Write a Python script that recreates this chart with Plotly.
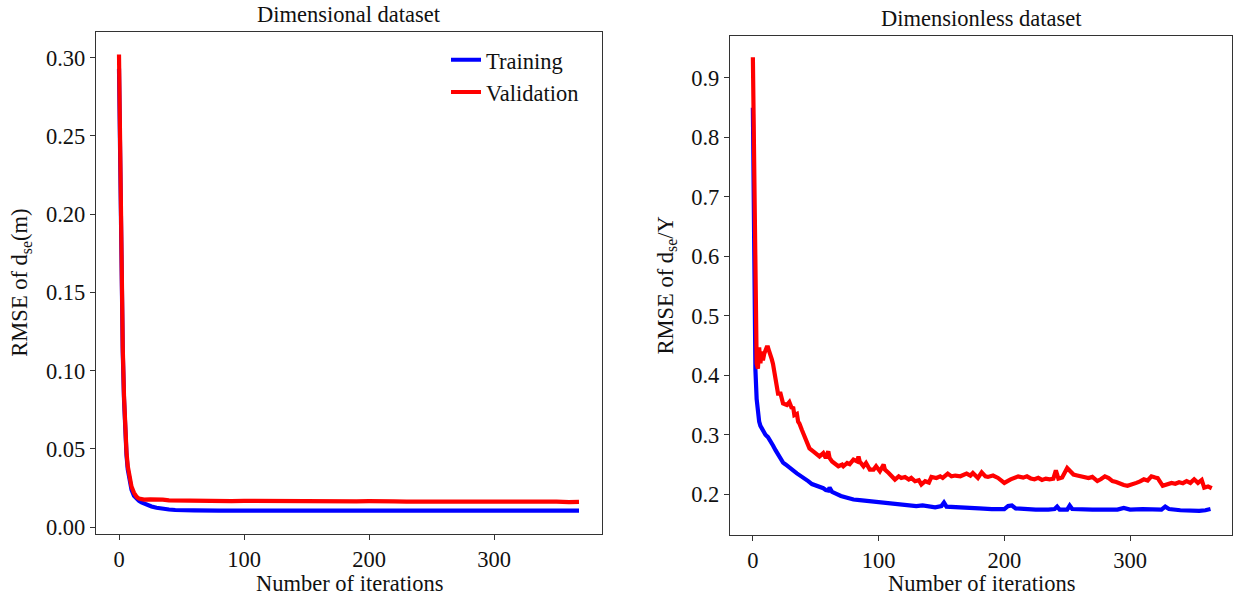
import plotly.graph_objects as go

# ---------------- data: Dimensional dataset ----------------
dim_train_x = [0, 1, 2, 3, 4, 5, 6, 7, 8, 9, 10, 12, 14, 16, 18, 20, 23, 26, 30, 35, 40, 45, 50, 60,
               80, 100, 120, 140, 160, 180, 200, 220, 240, 260, 280, 300, 320, 340, 360, 368]
dim_train_y = [0.293, 0.215, 0.155, 0.112, 0.082, 0.060, 0.046, 0.037, 0.031, 0.027, 0.024, 0.020,
               0.018, 0.0168, 0.0158, 0.0150, 0.0140, 0.0132, 0.0124, 0.0117, 0.0113, 0.0110, 0.0108,
               0.0107, 0.0106, 0.0106, 0.0106, 0.0106, 0.0107, 0.0106, 0.0106, 0.0107, 0.0106, 0.0106,
               0.0106, 0.0107, 0.0106, 0.0106, 0.0106, 0.0106]

dim_val_x = [0, 1, 2, 3, 4, 5, 6, 7, 8, 9, 10, 12, 14, 16, 18, 20, 25, 30, 35, 40, 50, 60, 70, 80, 90,
             100, 110, 115, 120, 130, 140, 150, 160, 170, 180, 190, 200, 210, 220, 230, 240, 250, 260,
             270, 280, 290, 300, 310, 320, 330, 340, 350, 360, 365, 368]
dim_val_y = [0.302, 0.222, 0.160, 0.115, 0.084, 0.062, 0.048, 0.039, 0.033, 0.029, 0.026, 0.022,
             0.0195, 0.0183, 0.0178, 0.0176, 0.0178, 0.0180, 0.0176, 0.0172, 0.0170, 0.0171, 0.0169,
             0.0168, 0.0166, 0.0168, 0.0167, 0.0171, 0.0168, 0.0167, 0.0168, 0.0167, 0.0166, 0.0167,
             0.0166, 0.0165, 0.0166, 0.0168, 0.0165, 0.0164, 0.0165, 0.0164, 0.0163, 0.0164, 0.0163,
             0.0164, 0.0163, 0.0164, 0.0162, 0.0163, 0.0162, 0.0163, 0.0160, 0.0165, 0.0162]

# ---------------- data: Dimensionless dataset ----------------
dl_train_x = [0, 1, 2, 3, 4, 5, 6, 8, 10, 12, 14, 16, 18, 20, 22, 24, 26, 28, 30, 32, 35, 38, 41, 44,
              47, 50, 53, 56, 58, 60, 61, 63, 66, 70, 75, 80, 85, 90, 95, 100, 105, 110, 115, 120,
              125, 130, 135, 140, 145, 150, 152, 154, 160, 170, 180, 190, 200, 203, 206, 209, 215,
              225, 235, 240, 242, 244, 250, 252, 254, 260, 270, 280, 290, 295, 300, 310, 320, 325,
              328, 331, 340, 350, 355, 360, 364]
dl_train_y = [0.85, 0.52, 0.41, 0.36, 0.335, 0.322, 0.315, 0.307, 0.300, 0.296, 0.290, 0.282, 0.274,
              0.266, 0.259, 0.253, 0.250, 0.247, 0.245, 0.240, 0.235, 0.231, 0.228, 0.222, 0.217,
              0.215, 0.213, 0.210, 0.207, 0.206, 0.211, 0.204, 0.201, 0.197, 0.194, 0.191, 0.190,
              0.189, 0.188, 0.187, 0.186, 0.185, 0.183, 0.182, 0.181, 0.180, 0.181, 0.179, 0.178,
              0.180, 0.186, 0.179, 0.178, 0.177, 0.176, 0.175, 0.175, 0.180, 0.181, 0.176, 0.175,
              0.174, 0.174, 0.175, 0.179, 0.174, 0.174, 0.181, 0.175, 0.174, 0.174, 0.174, 0.174,
              0.177, 0.174, 0.175, 0.175, 0.174, 0.179, 0.175, 0.173, 0.172, 0.172, 0.173, 0.175]

dl_val_x = [0, 1, 2, 3, 4, 5, 6, 7, 8, 9, 11, 12, 13, 14, 15, 16, 18, 19, 20, 22, 23, 24, 27, 29,
            31, 32, 33, 35, 36, 37, 39, 40, 41, 43, 44, 45, 48, 51, 53, 56, 58, 60, 61, 63, 65, 68,
            71, 72, 75, 77, 80, 83, 84, 85, 88, 90, 93, 96, 98, 101, 104, 105, 108, 110, 113, 116,
            118, 121, 124, 126, 129, 132, 134, 137, 140, 142, 146, 149, 151, 155, 158, 161, 165,
            170, 173, 175, 179, 182, 185, 187, 191, 195, 200, 205, 208, 211, 215, 218, 221, 224,
            227, 230, 233, 236, 239, 241, 243, 246, 250, 253, 255, 258, 261, 264, 267, 270, 274,
            277, 280, 283, 286, 289, 292, 295, 298, 302, 305, 308, 311, 314, 317, 320, 322, 326,
            330, 333, 336, 339, 342, 345, 348, 351, 354, 357, 359, 362, 365]
dl_val_y = [0.935, 0.70, 0.47, 0.42, 0.411, 0.447, 0.42, 0.44, 0.425, 0.436, 0.447, 0.447, 0.44,
            0.43, 0.427, 0.419, 0.397, 0.386, 0.369, 0.369, 0.358, 0.3525, 0.350, 0.355, 0.344,
            0.347, 0.333, 0.335, 0.322, 0.319, 0.308, 0.3025, 0.297, 0.289, 0.283, 0.277, 0.272,
            0.266, 0.2635, 0.269, 0.261, 0.272, 0.261, 0.255, 0.2524, 0.247, 0.2497, 0.247, 0.2524,
            0.2505, 0.258, 0.255, 0.2635, 0.255, 0.247, 0.2524, 0.2413, 0.2413, 0.247, 0.2385,
            0.2497, 0.2413, 0.2357, 0.2302, 0.2246, 0.230, 0.2273, 0.229, 0.2246, 0.2273, 0.2218,
            0.2235, 0.2163, 0.2218, 0.2196, 0.229, 0.2273, 0.230, 0.2273, 0.2346, 0.230, 0.2313,
            0.2302, 0.2346, 0.2313, 0.2357, 0.2273, 0.2368, 0.230, 0.229, 0.2313, 0.2273, 0.219,
            0.225, 0.2275, 0.230, 0.2278, 0.230, 0.2265, 0.225, 0.2275, 0.224, 0.2262, 0.225, 0.226,
            0.240, 0.226, 0.228, 0.244, 0.236, 0.233, 0.2315, 0.230, 0.2285, 0.227, 0.229, 0.222,
            0.2255, 0.230, 0.227, 0.222, 0.2205, 0.217, 0.2155, 0.214, 0.216, 0.219, 0.2215, 0.225,
            0.223, 0.230, 0.228, 0.227, 0.214, 0.216, 0.219, 0.2175, 0.220, 0.2185, 0.222, 0.219,
            0.225, 0.219, 0.224, 0.211, 0.213, 0.210]

x_ticks = [0, 100, 200, 300]
dim_y_ticks = [0.00, 0.05, 0.10, 0.15, 0.20, 0.25, 0.30]
dl_y_ticks = [0.2, 0.3, 0.4, 0.5, 0.6, 0.7, 0.8, 0.9]

# ---------------- figure ----------------
W, H = 1233, 601
FONT = "Liberation Serif, Times New Roman, serif"
BLUE, RED = "#0000ff", "#ff0000"
TXT = "#111111"
LW = 4.2
FS = 22.5

def px_x(p):
    return p / W

def px_y(p):
    return 1 - p / H

fig = go.Figure()
fig.add_trace(go.Scatter(x=dim_train_x, y=dim_train_y, mode="lines", name="Training",
                         line=dict(color=BLUE, width=LW), xaxis="x", yaxis="y"))
fig.add_trace(go.Scatter(x=dim_val_x, y=dim_val_y, mode="lines", name="Validation",
                         line=dict(color=RED, width=LW), xaxis="x", yaxis="y"))
fig.add_trace(go.Scatter(x=dl_train_x, y=dl_train_y, mode="lines", name="Training",
                         line=dict(color=BLUE, width=LW), xaxis="x2", yaxis="y2", showlegend=False))
fig.add_trace(go.Scatter(x=dl_val_x, y=dl_val_y, mode="lines", name="Validation",
                         line=dict(color=RED, width=LW), xaxis="x2", yaxis="y2", showlegend=False))

axis_common = dict(showline=True, mirror=True, linecolor="#333333", linewidth=1.3,
                   ticks="outside", ticklen=5, tickwidth=1.2, tickcolor="#333333",
                   showgrid=False, zeroline=False,
                   tickfont=dict(family=FONT, size=FS, color=TXT))

fig.update_layout(
    width=W, height=H,
    margin=dict(l=0, r=0, t=0, b=0),
    paper_bgcolor="white", plot_bgcolor="white",
    font=dict(family=FONT, size=FS, color=TXT),
    xaxis=dict(domain=[px_x(96), px_x(602)], range=[-18.4, 386.4], tickvals=x_ticks,
               anchor="y", **axis_common),
    yaxis=dict(domain=[px_y(539), px_y(32)], range=[-0.0041, 0.3166], tickvals=dim_y_ticks,
               tickformat=".2f", anchor="x", **axis_common),
    xaxis2=dict(domain=[px_x(730), px_x(1232)], range=[-18.2, 381.1], tickvals=x_ticks,
                anchor="y2", **axis_common),
    yaxis2=dict(domain=[px_y(540), px_y(36.5)], range=[0.132, 0.9704], tickvals=dl_y_ticks,
                tickformat=".1f", anchor="x2", **axis_common),
    showlegend=True,
    legend=dict(x=px_x(446), y=px_y(39), xanchor="left", yanchor="top",
                bgcolor="rgba(0,0,0,0)", borderwidth=0,
                font=dict(family=FONT, size=FS, color=TXT), tracegroupgap=0),
)

annotations = [
    dict(text="Dimensional dataset", x=px_x(349), y=px_y(15)),
    dict(text="Dimensionless dataset", x=px_x(981), y=px_y(19)),
    dict(text="Number of iterations", x=px_x(349), y=px_y(589)),
    dict(text="Number of iterations", x=px_x(981), y=px_y(589)),
    dict(text="RMSE of d<sub>se</sub>(m)", x=px_x(21), y=px_y(285.5), textangle=-90),
    dict(text="RMSE of d<sub>se</sub>/Y", x=px_x(667), y=px_y(288.3), textangle=-90),
]
for a in annotations:
    fig.add_annotation(xref="paper", yref="paper", showarrow=False,
                       xanchor="center", yanchor="middle",
                       font=dict(family=FONT, size=FS, color=TXT), **a)

fig.write_html("out.html", config={"displayModeBar": False},
               post_script="document.body.style.margin='0';")
